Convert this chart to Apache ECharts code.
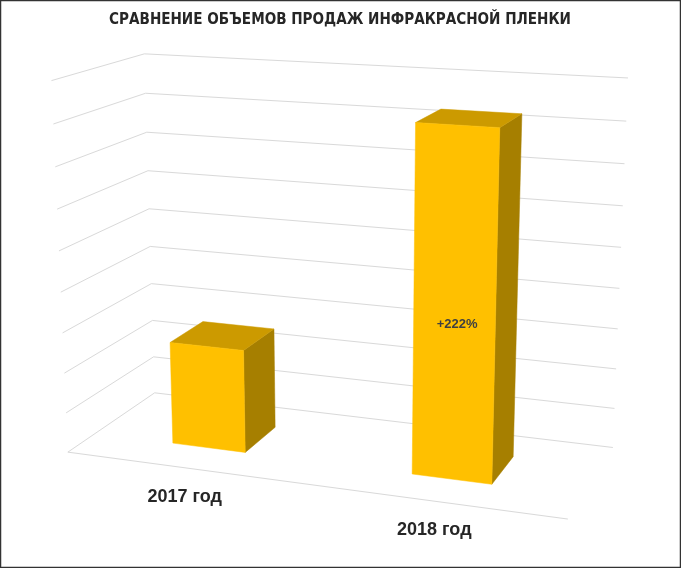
<!DOCTYPE html>
<html>
<head>
<meta charset="utf-8">
<script src="https://cdn.jsdelivr.net/npm/echarts@6/dist/echarts.min.js"></script>
<style>
html,body{margin:0;padding:0;background:#fff;}
#chart{width:681px;height:568px;}
</style>
</head>
<body>
<div id="chart"></div>
<script>
// ---------------- data ----------------
const chartTitle = 'СРАВНЕНИЕ ОБЪЕМОВ ПРОДАЖ ИНФРАКРАСНОЙ ПЛЕНКИ';
const categories = ['2017 год', '2018 год'];
const salesValues = [2.57, 8.28];
const barLabels = ['', '+222%'];
const axisMin = 0;
const axisMax = 9;
const axisStep = 1;

// ---------------- camera (3D look) ----------------
// world: X = 0..1 across the category axis, Y = value units, Z = 0 (back wall) .. 1 (front)
const cornerBack = [[155,393],[154,357],[153,320],[151,284],[150,246],[149,209],[148,171],[146,132],[145,93],[145,54]];
const cornerFront = [[68,452],[66,413],[64,373],[62,333],[61,292],[59,251],[57,209],[56,167],[53,124],[52,80.7]];
const cornerRight = [[613,448],[614,408],[616,369],[618,329],[619,288],[621,247],[623,206],[625,164],[626,121],[628,78]];
const floorFrontRight = [568,519];
const gapWidth = 2.2, gapDepth = 1.5;

function solveCamera() {
  const pts = [];
  for (let k = 0; k < cornerBack.length; k++) {
    pts.push([0, k, 0, cornerBack[k][0], cornerBack[k][1]]);
    pts.push([0, k, 1, cornerFront[k][0], cornerFront[k][1]]);
    pts.push([1, k, 0, cornerRight[k][0], cornerRight[k][1]]);
  }
  pts.push([1, 0, 1, floorFrontRight[0], floorFrontRight[1]]);
  const n = 11;
  const M = [];
  for (let i = 0; i < n; i++) M.push(new Array(n + 1).fill(0));
  const add = (row, rhs) => {
    for (let i = 0; i < n; i++) {
      for (let j = 0; j < n; j++) M[i][j] += row[i] * row[j];
      M[i][n] += row[i] * rhs;
    }
  };
  pts.forEach(([X, Y, Z, u, v]) => {
    add([X, Y, Z, 1, 0, 0, 0, 0, -u * X, -u * Y, -u * Z], u);
    add([0, 0, 0, 0, X, Y, Z, 1, -v * X, -v * Y, -v * Z], v);
  });
  for (let c = 0; c < n; c++) {
    let piv = c;
    for (let r = c + 1; r < n; r++) if (Math.abs(M[r][c]) > Math.abs(M[piv][c])) piv = r;
    [M[c], M[piv]] = [M[piv], M[c]];
    for (let r = 0; r < n; r++) {
      if (r === c) continue;
      const f = M[r][c] / M[c][c];
      for (let k = c; k <= n; k++) M[r][k] -= f * M[c][k];
    }
  }
  return M.map((row, i) => row[n] / row[i]);
}
const P = solveCamera();
function proj(X, Y, Z) {
  const w = P[8] * X + P[9] * Y + P[10] * Z + 1;
  return [(P[0] * X + P[1] * Y + P[2] * Z + P[3]) / w,
          (P[4] * X + P[5] * Y + P[6] * Z + P[7]) / w];
}
// pixel of the hidden cartesian grid -> world
function worldX(px, cs) { return (px - cs.x) / cs.width; }
function worldY(py, cs) { return axisMin + (axisMax - axisMin) * (cs.y + cs.height - py) / cs.height; }

const gridLevels = [];
for (let v = axisMin; v <= axisMax + 1e-9; v += axisStep) gridLevels.push(v);

const chart = echarts.init(document.getElementById('chart'));
chart.setOption({
  backgroundColor: '#fff',
  animation: false,
  grid: { left: 0, right: 0, top: 0, bottom: 0 },
  xAxis: { type: 'category', data: categories, show: false },
  yAxis: { type: 'value', min: axisMin, max: axisMax, interval: axisStep, show: false },
  graphic: [
    {
      type: 'text', x: 340, y: 20, scaleX: 0.943, z: 50, silent: true,
      style: { text: chartTitle, fill: '#262626', font: 'bold 16px "DejaVu Sans Condensed", "DejaVu Sans", sans-serif', align: 'center', verticalAlign: 'middle' }
    },
    {
      type: 'rect', z: 100, silent: true,
      shape: { x: 0.5, y: 0.5, width: 680, height: 567 },
      style: { fill: 'none', stroke: '#333', lineWidth: 1.5 }
    }
  ],
  series: [
    {
      type: 'custom', name: 'walls', clip: false, z: 1,
      data: gridLevels.map(v => [0, v]),
      renderItem: function (params, api) {
        const cs = params.coordSys;
        const Y = worldY(api.coord([0, api.value(1)])[1], cs);
        const children = [{
          type: 'polyline',
          shape: { points: [proj(0, Y, 1), proj(0, Y, 0), proj(1, Y, 0)] },
          style: { fill: 'none', stroke: '#d9d9d9', lineWidth: 1 }
        }];
        if (params.dataIndex === 0) {
          children.push({
            type: 'polyline',
            shape: { points: [proj(0, Y, 1), proj(1, Y, 1)] },
            style: { fill: 'none', stroke: '#d9d9d9', lineWidth: 1 }
          });
        }
        return { type: 'group', children: children };
      }
    },
    {
      type: 'custom', name: 'sales', clip: false, z: 2,
      data: salesValues.map((v, i) => [i, v]),
      renderItem: function (params, api) {
        const cs = params.coordSys;
        const i = api.value(0);
        const top = api.coord([i, api.value(1)]);
        const base = api.coord([i, axisMin]);
        const band = api.size([1, 0])[0];
        const Xc = worldX(top[0], cs);
        const hw = band / cs.width / (1 + gapWidth) / 2;
        const Yt = worldY(top[1], cs), Yb = worldY(base[1], cs);
        const dHalf = 1 / (1 + gapDepth) / 2;
        const Z0 = 0.5 - dHalf, Z1 = 0.5 + dHalf;
        const xl = Xc - hw, xr = Xc + hw;
        const children = [
          { type: 'polygon', shape: { points: [proj(xr, Yb, Z1), proj(xr, Yb, Z0), proj(xr, Yt, Z0), proj(xr, Yt, Z1)] },
            style: { fill: '#a67f00', stroke: '#a67f00', lineWidth: 0.5 } },
          { type: 'polygon', shape: { points: [proj(xl, Yt, Z1), proj(xr, Yt, Z1), proj(xr, Yt, Z0), proj(xl, Yt, Z0)] },
            style: { fill: '#cc9a00', stroke: '#cc9a00', lineWidth: 0.5 } },
          { type: 'polygon', shape: { points: [proj(xl, Yb, Z1), proj(xr, Yb, Z1), proj(xr, Yt, Z1), proj(xl, Yt, Z1)] },
            style: { fill: '#ffc000', stroke: '#ffc000', lineWidth: 0.5 } }
        ];
        const lbl = barLabels[params.dataIndex];
        if (lbl) {
          const p = proj(Xc, Yb + (Yt - Yb) * 0.45, Z1);
          children.push({ type: 'text', x: p[0] + 3, y: p[1],
            style: { text: lbl, fill: '#404040', font: 'bold 13px "Liberation Sans", Arial, sans-serif', align: 'center', verticalAlign: 'middle' } });
        }
        const c = proj(Xc, Yb, 1);
        children.push({ type: 'text', x: c[0] + 1, y: c[1] + 29,
          style: { text: categories[params.dataIndex], fill: '#262626', font: 'bold 18px "Liberation Sans", Arial, sans-serif', align: 'center', verticalAlign: 'middle' } });
        return { type: 'group', children: children };
      }
    }
  ]
});
</script>
</body>
</html>
